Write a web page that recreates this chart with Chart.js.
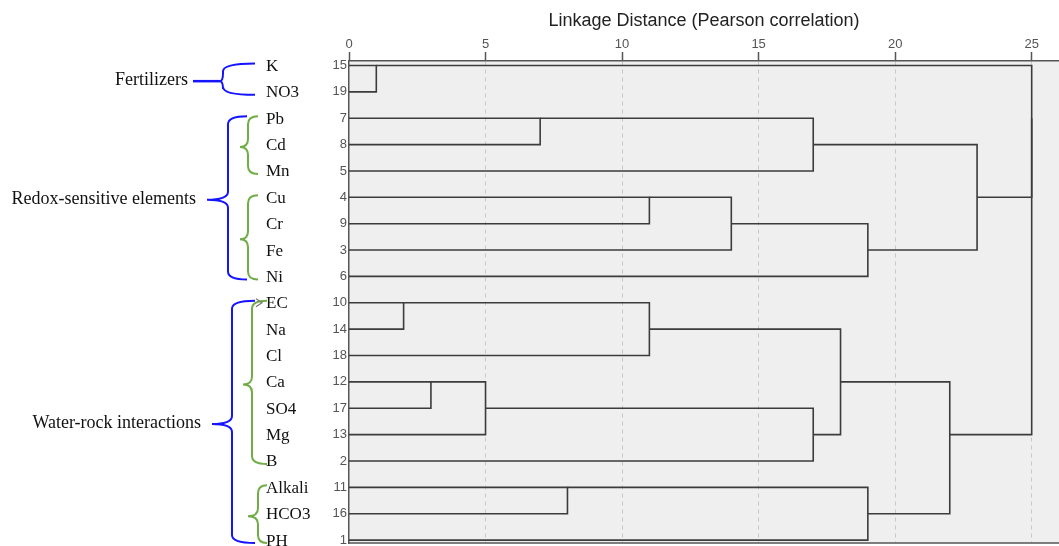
<!DOCTYPE html>
<html>
<head>
<meta charset="utf-8">
<script src="https://cdn.jsdelivr.net/npm/chart.js@4"></script>
<style>
  body { margin: 0; background: #fff; }
  canvas { display: block; }
</style>
</head>
<body>
<canvas id="dendro" width="1059" height="546"></canvas>
<script>
// leaf order top to bottom (SPSS case numbers + variable names)
const caseNumbers = [15, 19, 7, 8, 5, 4, 9, 3, 6, 10, 14, 18, 12, 17, 13, 2, 11, 16, 1];
const variableNames = ['K', 'NO3', 'Pb', 'Cd', 'Mn', 'Cu', 'Cr', 'Fe', 'Ni', 'EC', 'Na', 'Cl', 'Ca', 'SO4', 'Mg', 'B', 'Alkali', 'HCO3', 'PH'];

// agglomeration schedule: cluster combined (by case number) and rescaled distance
const stageCluster1 = [15, 10, 12, 12, 7, 11, 4, 10, 3, 5, 2, 2, 3, 1, 1, 3, 3, 1];
const stageCluster2 = [19, 14, 17, 13, 8, 16, 9, 18, 4, 7, 12, 10, 6, 11, 2, 5, 15, 3];
const stageDistance = [1, 2, 3, 5, 7, 8, 11, 11, 14, 17, 17, 18, 19, 19, 22, 23, 25, 25];

const distanceTicks = [0, 5, 10, 15, 20, 25];

// annotation groups (first/last leaf row)
const outerGroups = [
    { label: 'Fertilizers', first: 0, last: 1 },
    { label: 'Redox-sensitive elements', first: 2, last: 8 },
    { label: 'Water-rock interactions', first: 9, last: 18 }
];
const innerGroups = [
    { first: 2, last: 4 },
    { first: 5, last: 8 },
    { first: 9, last: 15 },
    { first: 16, last: 18 }
];

// build the U-shaped links from the schedule
function buildLinks() {
    const nodes = {};
    caseNumbers.forEach((c, i) => { nodes[c] = { x: 0, y: i }; });
    const links = [];
    for (let s = 0; s < stageDistance.length; s++) {
        const a = nodes[stageCluster1[s]];
        const b = nodes[stageCluster2[s]];
        const d = stageDistance[s];
        const upper = a.y <= b.y ? a : b;
        const lower = a.y <= b.y ? b : a;
        links.push([
            { x: upper.x, y: upper.y },
            { x: d, y: upper.y },
            { x: d, y: lower.y },
            { x: lower.x, y: lower.y }
        ]);
        nodes[stageCluster1[s]] = { x: d, y: Math.floor((upper.y + lower.y) / 2) };
    }
    return links;
}

const datasets = buildLinks().map(pts => ({
    data: pts,
    showLine: true,
    borderColor: '#3c3c3c',
    borderWidth: 1.6,
    pointRadius: 0,
    tension: 0,
    clip: false
}));

function drawBrace(ctx, xEnd, xv, xTip, yTop, yBot, yMid, color) {
    const r = Math.min(8, (yBot - yTop) / 4);
    ctx.save();
    ctx.strokeStyle = color;
    ctx.lineWidth = 2;
    ctx.beginPath();
    ctx.moveTo(xEnd, yTop);
    ctx.quadraticCurveTo(xv, yTop, xv, yTop + r);
    ctx.lineTo(xv, yMid - r);
    ctx.quadraticCurveTo(xv, yMid, xTip, yMid);
    ctx.quadraticCurveTo(xv, yMid, xv, yMid + r);
    ctx.lineTo(xv, yBot - r);
    ctx.quadraticCurveTo(xv, yBot, xEnd, yBot);
    ctx.stroke();
    ctx.restore();
}

const backdrop = {
    id: 'backdrop',
    beforeDraw(chart) {
        const { ctx, chartArea: a } = chart;
        ctx.save();
        ctx.fillStyle = '#efefef';
        ctx.fillRect(a.left, a.top, a.right - a.left, a.bottom - a.top);
        ctx.restore();
    },
    afterDraw(chart) {
        const { ctx, chartArea: a } = chart;
        const ys = chart.scales.y;
        ctx.save();
        // bottom frame line
        ctx.strokeStyle = '#555';
        ctx.lineWidth = 1.5;
        ctx.beginPath();
        ctx.moveTo(a.left, a.bottom);
        ctx.lineTo(a.right, a.bottom);
        ctx.stroke();

        // variable names
        ctx.fillStyle = '#111';
        ctx.font = '17px "Liberation Serif", "Times New Roman", serif';
        ctx.textAlign = 'left';
        ctx.textBaseline = 'middle';
        variableNames.forEach((name, i) => {
            ctx.fillText(name, 266, ys.getPixelForValue(i) + 1);
        });

        // outer blue braces + labels
        const outerX = [[255, 223, 220], [247, 228, 207], [255, 232, 212]];
        outerGroups.forEach((g, k) => {
            const yTop = ys.getPixelForValue(g.first) - 2;
            const yBot = ys.getPixelForValue(g.last) + 3;
            const yMid = (yTop + yBot) / 2 + 2;
            const [xe, xv, xt] = outerX[k];
            drawBrace(ctx, xe, xv, xt, yTop, yBot, yMid, '#1414ff');
            let labelEnd = xt - 11;
            if (k === 0) {
                ctx.strokeStyle = '#1414ff';
                ctx.lineWidth = 2.5;
                ctx.beginPath();
                ctx.moveTo(193, yMid);
                ctx.lineTo(xt, yMid);
                ctx.stroke();
                labelEnd = 188;
            }
            ctx.fillStyle = '#111';
            ctx.font = '18px "Liberation Serif", "Times New Roman", serif';
            ctx.textAlign = 'right';
            ctx.fillText(g.label, labelEnd, yMid - 1);
        });

        // inner green braces
        const innerX = [[258, 248, 240], [258, 248, 240], [267, 252, 243], [267, 258, 248]];
        innerGroups.forEach((g, k) => {
            const yTop = ys.getPixelForValue(g.first) - 2;
            const yBot = ys.getPixelForValue(g.last) + 3;
            const yMid = (yTop + yBot) / 2 + 2;
            const [xe, xv, xt] = innerX[k];
            drawBrace(ctx, xe, xv, xt, yTop, yBot, yMid, '#70ad47');
        });

        // small arrow head at EC
        const yEC = ys.getPixelForValue(9);
        ctx.strokeStyle = '#777';
        ctx.lineWidth = 1.2;
        ctx.beginPath();
        ctx.moveTo(256, yEC - 4);
        ctx.lineTo(262, yEC);
        ctx.lineTo(256, yEC + 4);
        ctx.stroke();
        ctx.restore();
    }
};

new Chart(document.getElementById('dendro'), {
    type: 'scatter',
    data: { datasets: datasets },
    options: {
        responsive: false,
        animation: false,
        devicePixelRatio: 1,
        layout: { padding: { left: 0, top: 0, right: 0, bottom: 3 } },
        plugins: { legend: { display: false }, tooltip: { enabled: false } },
        scales: {
            x: {
                type: 'linear',
                position: 'top',
                min: 0,
                max: 26,
                afterBuildTicks: scale => { scale.ticks = distanceTicks.map(v => ({ value: v })); },
                afterFit: scale => { scale.height = 61; scale.paddingLeft = 0; scale.paddingRight = 0; },
                ticks: {
                    color: '#555',
                    font: { family: '"Liberation Sans", Arial, sans-serif', size: 13 },
                    padding: 0,
                    maxRotation: 0
                },
                grid: {
                    color: ctx => (ctx.tick && ctx.tick.value === 0) ? 'rgba(0,0,0,0)' : '#c8c8c8',
                    lineWidth: 1,
                    tickColor: '#555',
                    tickWidth: 1.5,
                    tickLength: 9
                },
                border: { color: '#555', width: 1.5, dash: [4, 4] },
                title: {
                    display: true,
                    text: 'Linkage Distance (Pearson correlation)',
                    color: '#222',
                    font: { family: '"Liberation Sans", Arial, sans-serif', size: 18 },
                    padding: { top: 10, bottom: 0 }
                }
            },
            y: {
                type: 'linear',
                reverse: true,
                min: -0.17,
                max: 18.11,
                afterBuildTicks: scale => { scale.ticks = caseNumbers.map((c, i) => ({ value: i })); },
                afterFit: scale => { scale.width = 349; scale.paddingTop = 0; scale.paddingBottom = 0; },
                ticks: {
                    color: '#555',
                    font: { family: '"Liberation Sans", Arial, sans-serif', size: 13 },
                    padding: 2,
                    callback: v => caseNumbers[v]
                },
                grid: { display: false, drawTicks: false },
                border: { color: '#555', width: 1.5 }
            }
        }
    },
    plugins: [backdrop]
});
</script>
</body>
</html>
